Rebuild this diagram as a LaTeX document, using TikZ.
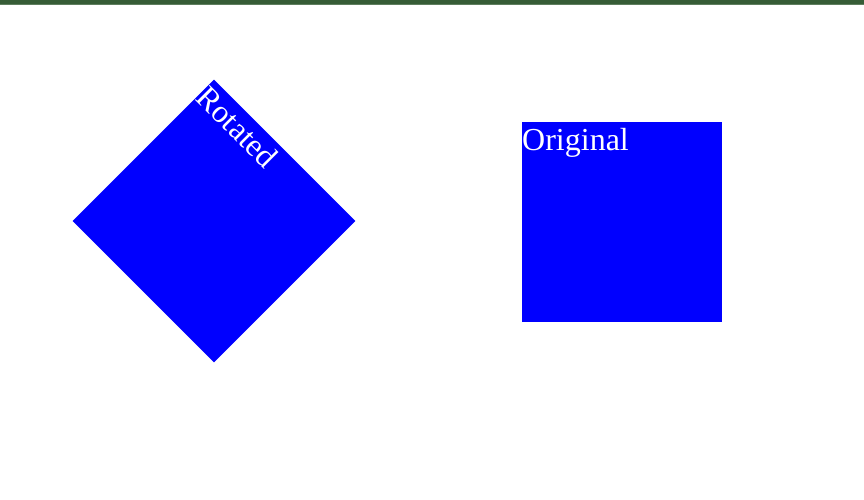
\documentclass[tikz,border=0pt]{standalone}
\usepackage{fontspec}
\setmainfont{Liberation Serif}
\definecolor{bardark}{HTML}{365C36}
\definecolor{barlight}{HTML}{5E7E5E}
\begin{document}
\begin{tikzpicture}[x=1pt,y=-1pt,
        fill blue/.style={fill=blue},
        white text/.style={text=white, inner sep=0pt, anchor=base west, font=\fontsize{32}{38}\selectfont}]
        \useasboundingbox (0,0) rectangle (864,500);
        % top bar
        \fill[bardark ](0,0)rectangle(864,4);
        \fill[barlight](0,4)rectangle(864,5.5);

        \begin{scope}[shift={(214,221)},rotate=-45,transform shape]
          \fill[fill blue](-100,-100)rectangle(100,100);
          \node[white text] (rotated) at (-100,-72) {Rotated};
        \end{scope}

        \begin{scope}[shift={(622,222)}]
          \fill[fill blue](-100,-100)rectangle(100,100);
          \node[white text] (original) at (-100,-72) {Original};
        \end{scope}
      \end{tikzpicture}
\end{document}
